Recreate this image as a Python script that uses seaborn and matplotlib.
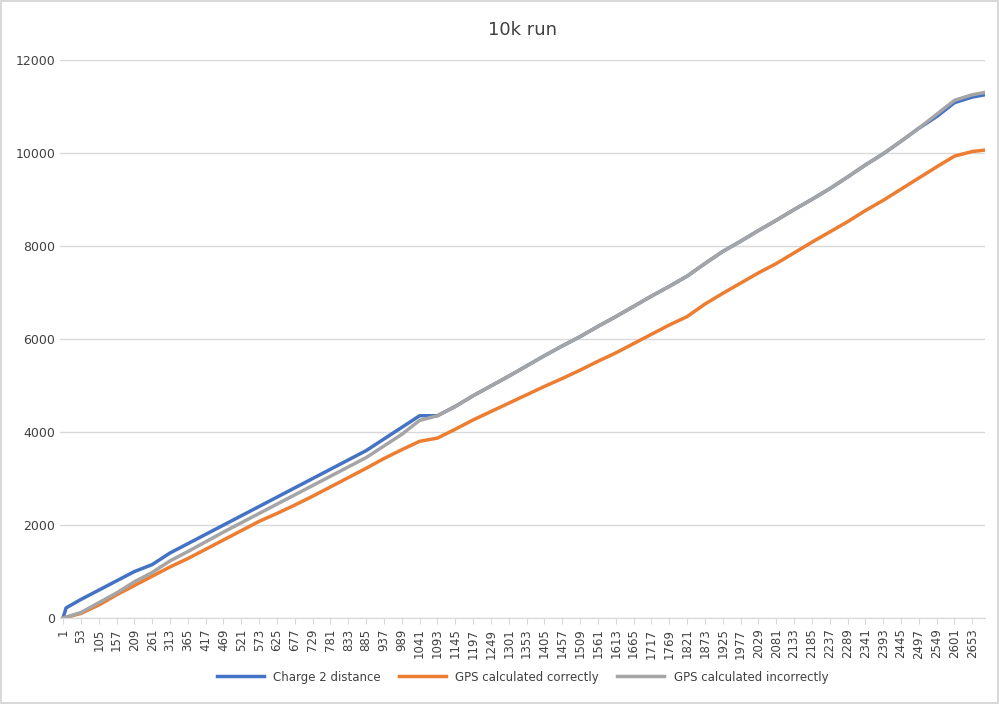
import matplotlib
matplotlib.use("Agg")
import matplotlib.pyplot as plt
import seaborn as sns
import pandas as pd

ticks = list(range(1, 2654, 52))

shared_x = [1145, 1197, 1249, 1301, 1353, 1405, 1457, 1509, 1561, 1613, 1665, 1717, 1769, 1821,
            1873, 1925, 1977, 2029, 2081, 2133, 2185, 2237, 2289, 2341, 2393, 2445, 2497, 2549, 2601, 2653, 2690]
shared_y = [4550, 4780, 4990, 5200, 5420, 5640, 5850, 6050, 6270, 6480, 6700, 6920, 7130, 7350,
            7620, 7880, 8100, 8330, 8550, 8780, 9000, 9230, 9480, 9740, 9980, 10250, 10530, 10780, 11080, 11200, 11250]

blue_x = [1, 10, 53, 105, 157, 209, 261, 313, 365, 417, 469, 521, 573, 625, 677, 729, 781, 833, 885, 937, 989, 1041, 1093] + shared_x
blue_y = [0, 220, 400, 600, 800, 1000, 1150, 1400, 1600, 1800, 2000, 2200, 2400, 2600, 2800, 3000, 3200, 3400, 3600, 3850, 4100, 4350, 4350] + shared_y

gray_x = [1, 53, 105, 157, 209, 261, 313, 365, 417, 469, 521, 573, 625, 677, 729, 781, 833, 885, 937, 989, 1041, 1093] + shared_x
gray_y = [0, 120, 330, 540, 780, 980, 1230, 1430, 1640, 1850, 2050, 2250, 2450, 2650, 2850, 3050, 3250, 3450, 3700, 3950, 4250, 4350] + shared_y[:-4] + [10830, 11130, 11250, 11300]

orange_x = [1, 53, 105, 157, 209, 261, 313, 365, 417, 469, 521, 573, 625, 677, 729, 781, 833, 885, 937, 989, 1041, 1093] + shared_x
orange_y = [0, 100, 280, 500, 700, 900, 1100, 1280, 1480, 1680, 1880, 2080, 2250, 2430, 2620, 2820, 3020, 3220, 3430, 3620, 3800, 3870,
            4060, 4260, 4440, 4620, 4800, 4980, 5150, 5330, 5520, 5700, 5900, 6100, 6300, 6480, 6750, 6980, 7200, 7420, 7620, 7850, 8080,
            8300, 8520, 8760, 8980, 9220, 9460, 9700, 9930, 10030, 10060]

names = ["Charge 2 distance", "GPS calculated correctly", "GPS calculated incorrectly"]
frames = []
for n, xs, ys in zip(names, [blue_x, orange_x, gray_x], [blue_y, orange_y, gray_y]):
    frames.append(pd.DataFrame({"x": xs, "y": ys, "series": n}))
df = pd.concat(frames)

fig = plt.figure(figsize=(9.99, 7.04), dpi=100)
fig.patch.set_edgecolor("#D9D9D9")
fig.patch.set_linewidth(1.5)
ax = fig.add_axes([0.06, 0.122, 0.926, 0.793])
palette = {names[0]: "#4472C4", names[1]: "#ED7D31", names[2]: "#A5A5A5"}
sns.lineplot(data=df, x="x", y="y", hue="series", palette=palette, linewidth=2.5, ax=ax, sort=False)

ax.set_xlim(-8, 2690)
ax.set_ylim(0, 12000)
ax.set_yticks(range(0, 12001, 2000))
ax.set_xticks(ticks)
ax.set_xticklabels([str(t) for t in ticks], rotation=90, fontsize=8.5, color="#404040")
ax.tick_params(axis="y", labelsize=9, colors="#404040", length=0)
ax.tick_params(axis="x", length=4, color="#D9D9D9")
ax.grid(axis="y", color="#D9D9D9", linewidth=1)
ax.set_axisbelow(True)
for s in ["top", "right", "left"]:
    ax.spines[s].set_visible(False)
ax.spines["bottom"].set_color("#D9D9D9")
ax.set_xlabel("")
ax.set_ylabel("")
ax.set_title("10k run", fontsize=13, color="#404040", pad=18)
ax.legend(loc="upper center", bbox_to_anchor=(0.5, -0.075), ncol=3, frameon=False, fontsize=8.5,
          handlelength=4, columnspacing=1.5, labelcolor="#404040")
fig.savefig("out.png", dpi=100, edgecolor=fig.get_edgecolor())
